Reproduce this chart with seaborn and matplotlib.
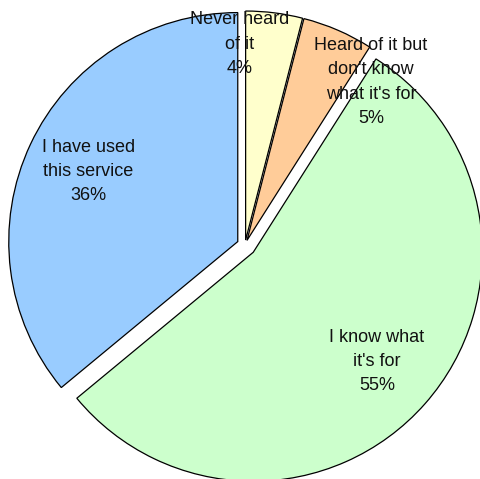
import numpy as np
import pandas as pd
import matplotlib
matplotlib.use("Agg")
import matplotlib.pyplot as plt
import seaborn as sns

# dados do gráfico
labels = ["Never heard\nof it", "Heard of it but\ndon't know\nwhat it's for",
          "I know what\nit's for", "I have used\nthis service"]
values = [4, 5, 55, 36]
colors = ["#FFFFCC", "#FFCC99", "#CCFFCC", "#99CCFF"]

sns.set_theme(style="white")
plt.rcParams["font.family"] = ["Liberation Sans", "DejaVu Sans"]

df = pd.DataFrame({"label": labels, "value": values})
pal = sns.color_palette(colors)

fig = plt.figure(figsize=(4.81, 4.79), dpi=100)
ax = fig.add_axes([0, 0, 1, 1])

# eixo em unidades de pixel
R = 229
wedges, texts = ax.pie(
    df["value"],
    labels=[f"{l}\n{v}%" for l, v in zip(df["label"], df["value"])],
    colors=pal,
    startangle=90,
    counterclock=False,
    radius=R,
    center=(245, 234),
    explode=[5, 5, 11, 8],
    labeldistance=0.72,
    wedgeprops=dict(edgecolor="black", linewidth=0.9),
    textprops=dict(fontsize=13, color="#111111", linespacing=1.55),
)

for t in texts:
    t.set_ha("center")
    t.set_va("center")
    t.set_multialignment("center")

# rótulos das fatias pequenas
texts[0].set_position((240, 435))
texts[1].set_position((371, 397))

ax.set_xlim(0, 481)
ax.set_ylim(0, 479)
ax.set_aspect("auto")
ax.axis("off")

fig.savefig("out.png", dpi=100)
